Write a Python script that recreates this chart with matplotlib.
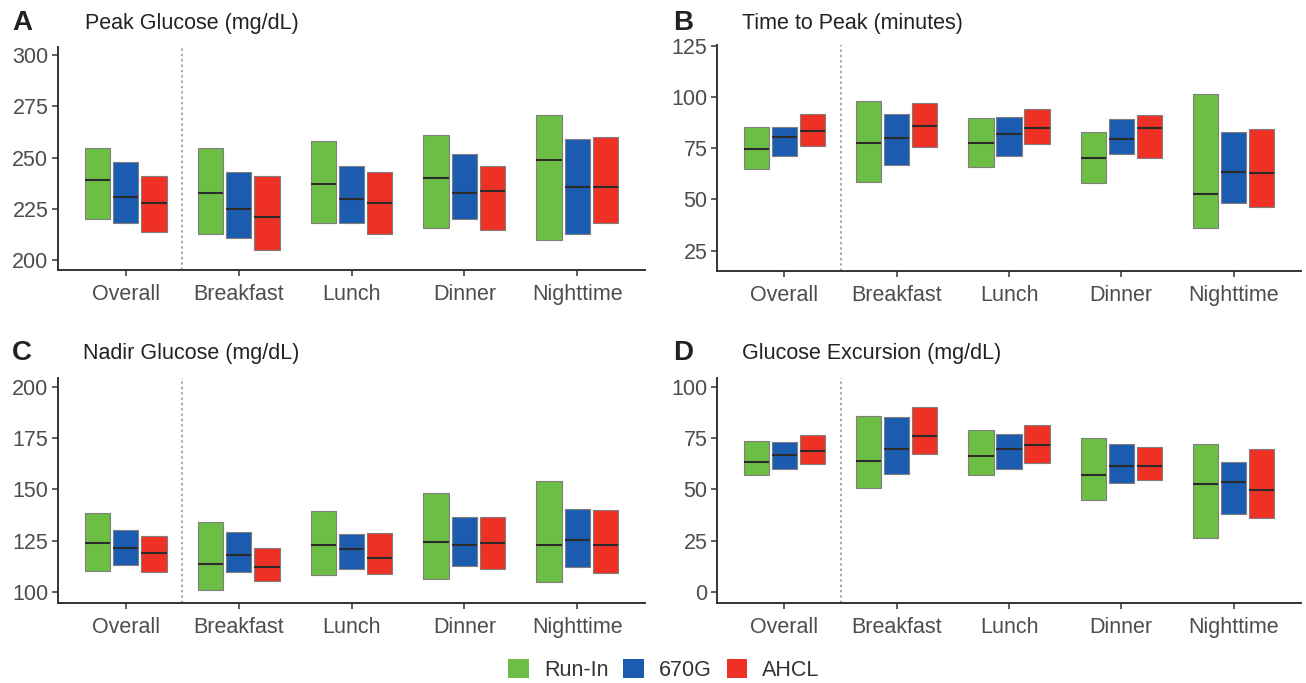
import numpy as np
import matplotlib
matplotlib.use("Agg")
import matplotlib.pyplot as plt
from matplotlib.patches import Patch

plt.rcParams["font.family"] = ["Liberation Sans", "DejaVu Sans"]

categories = ["Overall", "Breakfast", "Lunch", "Dinner", "Nighttime"]
groups = ["Run-In", "670G", "AHCL"]
colors = ["#6DBE45", "#1C5CB0", "#EE3124"]

# each group: (lower, median, upper) per category
peak_low = [[220, 213, 218, 216, 210], [218, 211, 218, 220, 213], [214, 205, 213, 215, 218]]
peak_med = [[239, 233, 237, 240, 249], [231, 225, 230, 233, 236], [228, 221, 228, 234, 236]]
peak_up = [[255, 255, 258, 261, 271], [248, 243, 246, 252, 259], [241, 241, 243, 246, 260]]

ttp_low = [[65, 58.5, 66, 58, 36], [71, 67, 71, 72, 48.5], [76, 75.5, 77, 70, 46.5]]
ttp_med = [[74.5, 77.5, 77.5, 70, 52.5], [80.5, 80, 82, 79.5, 63.5], [83.5, 86, 85, 85, 63]]
ttp_up = [[85.5, 98, 89.5, 83, 101.5], [85.5, 91.5, 90, 89, 83], [91.5, 97, 94, 91, 84.5]]

nadir_low = [[110, 101, 108, 106.5, 105], [113, 109.5, 111, 112.5, 112], [109.5, 105.5, 108.5, 111, 109]]
nadir_med = [[124, 113.5, 123, 124.5, 123], [121.5, 118, 121, 123, 125.5], [119, 112, 116.5, 124, 123]]
nadir_up = [[138.5, 134, 139.5, 148, 154], [130, 129, 128, 136.5, 140.5], [127, 121.5, 128.5, 136.5, 140]]

exc_low = [[57, 50.5, 57, 45, 26.5], [60, 57.5, 60, 53, 38], [62.5, 67, 63, 54.5, 36]]
exc_med = [[63.5, 64, 66, 57, 52.5], [66.5, 69.5, 69.5, 61.5, 53.5], [68.5, 76, 71.5, 61.5, 49.5]]
exc_up = [[73.5, 85.5, 79, 75, 72], [73, 85, 77, 72, 63.5], [76.5, 90, 81.5, 70.5, 69.5]]

W, H = 1306, 683
fig = plt.figure(figsize=(W / 100, H / 100), dpi=100)

def px_axes(left, top, right, bottom):
    return fig.add_axes([left / W, 1 - bottom / H, (right - left) / W, (bottom - top) / H])

panels = [
    ("A", "Peak Glucose (mg/dL)", peak_low, peak_med, peak_up, [200, 225, 250, 275, 300], (195.3, 304),
     (58, 47, 645, 270), (12, 85)),
    ("B", "Time to Peak (minutes)", ttp_low, ttp_med, ttp_up, [25, 50, 75, 100, 125], (15.1, 125.3),
     (717, 45, 1301, 271), (673, 742)),
    ("C", "Nadir Glucose (mg/dL)", nadir_low, nadir_med, nadir_up, [100, 125, 150, 175, 200], (94.6, 204.2),
     (58, 378, 645, 603), (12, 83)),
    ("D", "Glucose Excursion (mg/dL)", exc_low, exc_med, exc_up, [0, 25, 50, 75, 100], (-5.4, 104.2),
     (717, 378, 1301, 603), (673, 742)),
]

x = np.arange(1, len(categories) + 1)
offsets = [-0.25, 0, 0.25]
bw = 0.225
tick_col = "#4D4D4D"

for letter, title, lo, med, up, yticks, ylim, box, txt_x in panels:
    ax = px_axes(*box)
    for g in range(3):
        lo_a = np.array(lo[g]); up_a = np.array(up[g])
        ax.bar(x + offsets[g], up_a - lo_a, bottom=lo_a, width=bw, color=colors[g],
               edgecolor="#7F7F7F", linewidth=0.8, zorder=2)
        ax.hlines(med[g], x + offsets[g] - bw / 2, x + offsets[g] + bw / 2,
                  colors="#2B2B2B", linewidth=1.5, zorder=3)
    ax.axvline(1.5, color="#8C8C8C", linestyle=(0, (1.5, 2)), linewidth=1.1, zorder=1)
    ax.set_xlim(0.4, 5.6)
    ax.set_ylim(*ylim)
    ax.set_xticks(x)
    ax.set_xticklabels(categories)
    ax.set_yticks(yticks)
    for s in ["top", "right"]:
        ax.spines[s].set_visible(False)
    for s in ["left", "bottom"]:
        ax.spines[s].set_color("#333333")
        ax.spines[s].set_linewidth(1.4)
    ax.tick_params(colors="#333333", labelcolor=tick_col, labelsize=15.5, length=4, width=1.1, pad=3)
    ax.tick_params(axis="x", pad=6)
    top_px = box[1]
    ypos = 23 if top_px < 100 else 353
    fig.text(txt_x[0] / W, 1 - ypos / H, letter, fontsize=20, fontweight="bold",
             color="#222222", va="center", ha="left")
    fig.text(txt_x[1] / W, 1 - ypos / H, title, fontsize=15.5, color="#222222",
             va="center", ha="left")

handles = [Patch(facecolor=c, edgecolor="none") for c in colors]
fig.legend(handles, groups, loc="center", bbox_to_anchor=(664 / W, 1 - 670 / H), ncol=3,
           frameon=False, fontsize=15.5, handlelength=0.95, handleheight=0.95,
           handletextpad=0.7, columnspacing=0.7, labelcolor="#333333")

fig.savefig("out.png", dpi=100)
